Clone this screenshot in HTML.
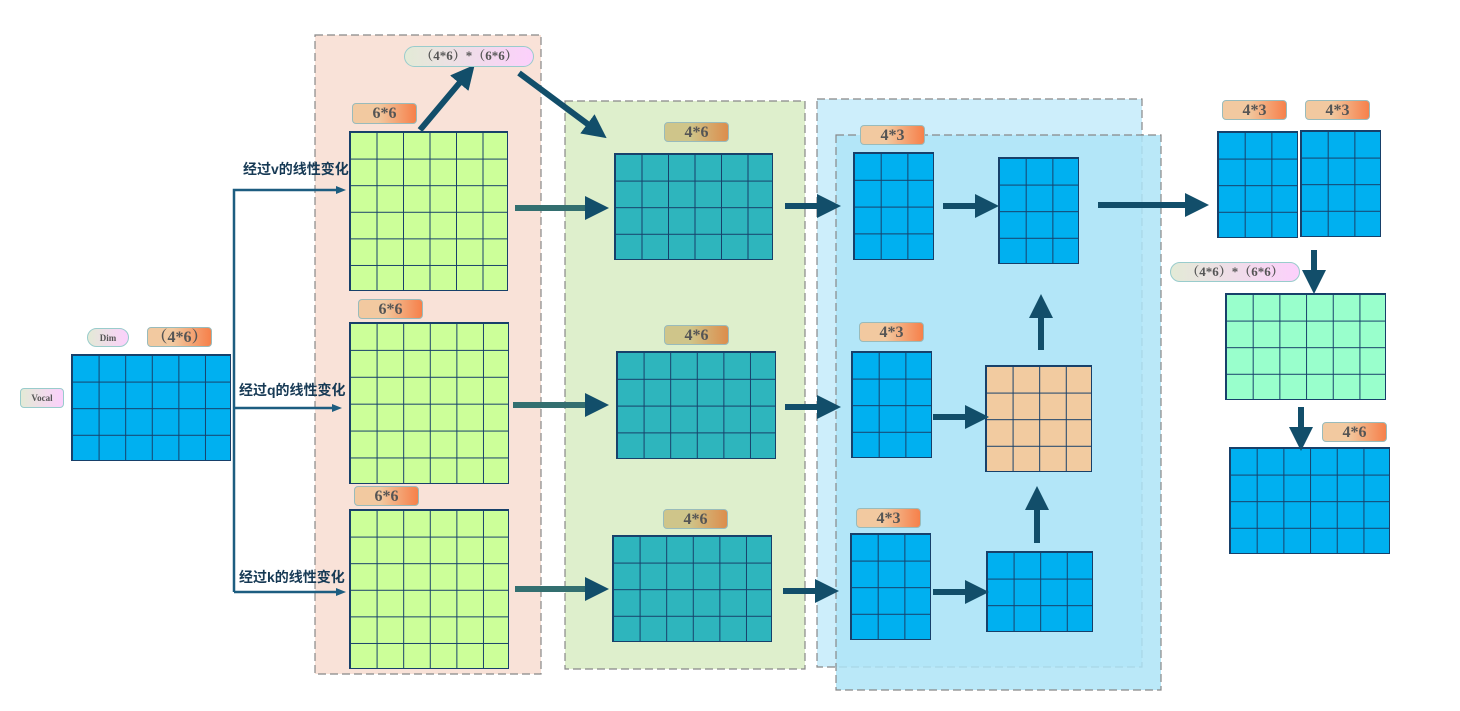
<!DOCTYPE html>
<html><head><meta charset="utf-8"><style>
body{margin:0;background:#fff;width:1460px;height:711px;position:relative;overflow:hidden;font-family:"Liberation Serif","Noto Serif CJK SC",serif}
.g{position:absolute;box-sizing:border-box;border:1px solid #17406a;
background-image:linear-gradient(to right,#17406a 1px,transparent 1px),linear-gradient(to bottom,#17406a 1px,transparent 1px);}
.b{position:absolute;box-sizing:border-box;border:1px solid #9bb;border-radius:4px;background:linear-gradient(to right,#f2c9a0 40%,#f6804a);color:#555;font-weight:bold;font-size:16px;text-align:center;line-height:19px}
.y{background:linear-gradient(to right,#cfc58a 40%,#dc8d4c)}
.p{position:absolute;box-sizing:border-box;border:1px solid #9cc;border-radius:11px;background:linear-gradient(to right,#e3ead6,#fcd0fc);color:#555;font-size:13px;font-weight:bold;text-align:center;line-height:18px}
.t{position:absolute;font-family:"Liberation Sans","Noto Sans CJK SC",sans-serif;font-weight:bold;font-size:14px;color:#173a55}
svg{position:absolute;left:0;top:0}
</style></head><body>
<svg width="1460" height="711">
<g stroke="#888" stroke-dasharray="8,4" stroke-width="1.2">
<rect x="315" y="35" width="226" height="639" fill="#f9e2d8"/>
<rect x="565" y="101" width="240" height="568" fill="#deefcc"/>
<rect x="817" y="99" width="325" height="568" fill="#cdeefb"/>
<rect x="836" y="135" width="325" height="555" fill="#aee4f7" fill-opacity="0.85"/>
</g></svg>
<div class="g" style="left:71px;top:354px;width:160px;height:107px;background-color:#00b0f0;background-size:26.6px 26.6px"></div>
<div class="g" style="left:349px;top:131px;width:159px;height:160px;background-color:#ccff99;background-size:26.5px 26.6px"></div>
<div class="g" style="left:349px;top:322px;width:160px;height:162px;background-color:#ccff99;background-size:26.6px 26.9px"></div>
<div class="g" style="left:349px;top:509px;width:160px;height:160px;background-color:#ccff99;background-size:26.6px 26.6px"></div>
<div class="g" style="left:614px;top:153px;width:159px;height:107px;background-color:#2eb5bd;background-size:26.5px 26.6px"></div>
<div class="g" style="left:616px;top:351px;width:160px;height:108px;background-color:#2eb5bd;background-size:26.6px 26.8px"></div>
<div class="g" style="left:612px;top:535px;width:160px;height:107px;background-color:#2eb5bd;background-size:26.6px 26.6px"></div>
<div class="g" style="left:853px;top:152px;width:81px;height:108px;background-color:#00b0f0;background-size:26.7px 26.8px"></div>
<div class="g" style="left:851px;top:351px;width:81px;height:107px;background-color:#00b0f0;background-size:26.7px 26.6px"></div>
<div class="g" style="left:850px;top:533px;width:81px;height:107px;background-color:#00b0f0;background-size:26.7px 26.6px"></div>
<div class="g" style="left:998px;top:157px;width:81px;height:107px;background-color:#00b0f0;background-size:26.7px 26.6px"></div>
<div class="g" style="left:985px;top:365px;width:107px;height:107px;background-color:#f2cba0;background-size:26.6px 26.6px"></div>
<div class="g" style="left:986px;top:551px;width:107px;height:81px;background-color:#00b0f0;background-size:26.6px 26.6px"></div>
<div class="g" style="left:1217px;top:131px;width:81px;height:107px;background-color:#00b0f0;background-size:26.7px 26.6px"></div>
<div class="g" style="left:1300px;top:130px;width:81px;height:107px;background-color:#00b0f0;background-size:26.7px 26.6px"></div>
<div class="g" style="left:1225px;top:293px;width:161px;height:107px;background-color:#99ffcc;background-size:26.7px 26.6px"></div>
<div class="g" style="left:1229px;top:447px;width:161px;height:107px;background-color:#00b0f0;background-size:26.7px 26.6px"></div>

<svg width="1460" height="711">
<defs>
<marker id="h" markerWidth="4" markerHeight="4" refX="2" refY="2" orient="auto"><path d="M0,0L4,2L0,4Z" fill="#124e6a"/></marker>
<marker id="s" markerWidth="10" markerHeight="8" refX="2" refY="4" orient="auto" markerUnits="userSpaceOnUse"><path d="M0,0L10,4L0,8Z" fill="#1d5d80"/></marker>
</defs>
<g stroke="#1d5d80" stroke-width="2.5" fill="none">
<path d="M234,592V190H338" marker-end="url(#s)"/>
<path d="M234,408H334" marker-end="url(#s)"/>
<path d="M234,592H338" marker-end="url(#s)"/>
</g>
<g stroke="#124e6a" stroke-width="6" marker-end="url(#h)">
<line x1="515" y1="208" x2="597" y2="208" stroke="#336f70"/>
<line x1="513" y1="405" x2="597" y2="405" stroke="#336f70"/>
<line x1="515" y1="589" x2="597" y2="589" stroke="#336f70"/>
<line x1="785" y1="206" x2="829" y2="206"/>
<line x1="785" y1="407" x2="829" y2="407"/>
<line x1="783" y1="591" x2="827" y2="591"/>
<line x1="943" y1="206" x2="987" y2="206"/>
<line x1="933" y1="417" x2="977" y2="417"/>
<line x1="933" y1="592" x2="977" y2="592"/>
<line x1="1098" y1="205" x2="1197" y2="205"/>
<line x1="1041" y1="350" x2="1041" y2="306"/>
<line x1="1037" y1="543" x2="1037" y2="498"/>
<line x1="1314" y1="250" x2="1314" y2="282"/>
<line x1="1301" y1="407" x2="1301" y2="439"/>
<line x1="420" y1="130" x2="467" y2="74"/>
<line x1="519" y1="73" x2="597" y2="131"/>
</g></svg>

<div class="p" style="left:404px;top:46px;width:130px;height:21px">（4*6）*（6*6）</div>
<div class="p" style="left:1170px;top:262px;width:130px;height:20px">（4*6）*（6*6）</div>
<div class="p" style="left:87px;top:328px;width:42px;height:19px;font-size:9px">Dim</div>
<div class="p" style="left:20px;top:388px;width:44px;height:20px;font-size:9px;border-radius:4px">Vocal</div>
<div class="b" style="left:147px;top:327px;width:65px;height:20px">（4*6）</div>
<div class="b" style="left:352px;top:103px;width:65px;height:21px">6*6</div>
<div class="b" style="left:358px;top:299px;width:65px;height:20px">6*6</div>
<div class="b" style="left:354px;top:486px;width:65px;height:20px">6*6</div>
<div class="b y" style="left:664px;top:122px;width:65px;height:20px">4*6</div>
<div class="b y" style="left:664px;top:325px;width:65px;height:20px">4*6</div>
<div class="b y" style="left:663px;top:509px;width:65px;height:20px">4*6</div>
<div class="b" style="left:860px;top:125px;width:65px;height:20px">4*3</div>
<div class="b" style="left:859px;top:322px;width:65px;height:20px">4*3</div>
<div class="b" style="left:856px;top:508px;width:65px;height:20px">4*3</div>
<div class="b" style="left:1222px;top:100px;width:65px;height:20px">4*3</div>
<div class="b" style="left:1305px;top:100px;width:65px;height:20px">4*3</div>
<div class="b" style="left:1322px;top:422px;width:65px;height:20px">4*6</div>
<div class="t" style="left:243px;top:159px">经过v的线性变化</div>
<div class="t" style="left:239px;top:380px">经过q的线性变化</div>
<div class="t" style="left:239px;top:567px">经过k的线性变化</div>
</body></html>
